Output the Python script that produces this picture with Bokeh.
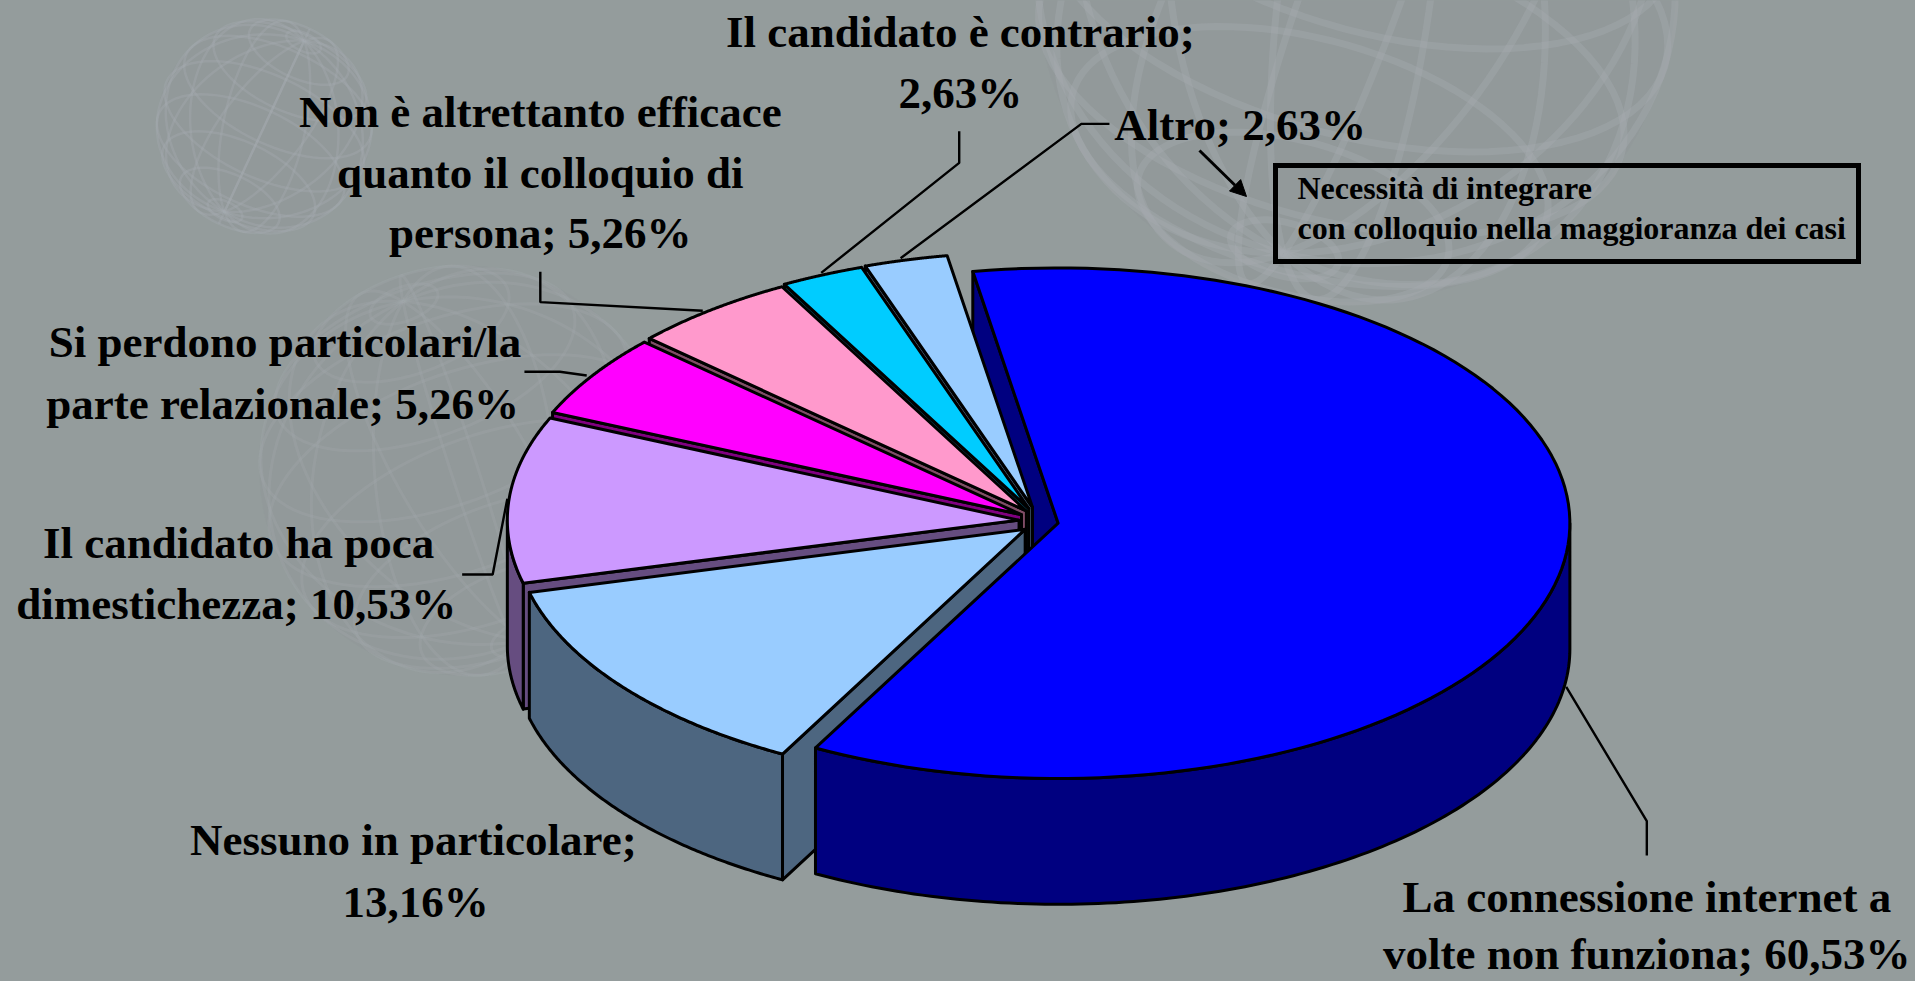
import numpy as np
from bokeh.plotting import figure
from bokeh.models import Arrow, NormalHead
from bokeh.core.properties import value
from bokeh.embed import file_html
from bokeh.resources import INLINE

# ---- data ----
categories = ["La connessione internet a volte non funziona", "Nessuno in particolare",
              "Il candidato ha poca dimestichezza", "Si perdono particolari/la parte relazionale",
              "Non è altrettanto efficace quanto il colloquio di persona",
              "Il candidato è contrario", "Altro"]
shares = [60.53, 13.16, 10.53, 5.26, 5.26, 2.63, 2.63]
top_colors = ["#0000FF", "#99CCFF", "#CC99FF", "#FF00FF", "#FF99CC", "#00CCFF", "#99CCFF"]
wall_colors = ["#000080", "#4D6680", "#664D80", "#800080", "#804D66", "#006680", "#4D6680"]

S = 1915 / 1568
BG = "#949C9C"
FONT = "Liberation Serif"

# ---- layout (in the reference's pixels) ----
centres = [(866, 428), (839, 433), (834, 425.5), (836, 421), (840, 418), (842, 416), (845, 415)]
RX, RY, DEPTH = 419 * S, 209 * S, 103 * S
START = -9.6

p = figure(width=1915, height=981, x_range=(0, 1915), y_range=(981, 0), output_backend="svg",
           toolbar_location=None, min_border=0, background_fill_color=BG, border_fill_color=BG,
           outline_line_color=None)
p.axis.visible = False
p.grid.visible = False


# ---- faint wire globes of the slide's background ----
def globe(cx, cy, r, tilt, spin, nlat=9, nlon=14):
    xs, ys = [], []
    ct, st = np.cos(np.radians(tilt)), np.sin(np.radians(tilt))
    def proj(lat, lon):
        x = np.cos(lat) * np.sin(lon)
        y = np.sin(lat)
        z = np.cos(lat) * np.cos(lon)
        y2 = y * np.cos(0.5) - z * np.sin(0.5)
        return cx + r * (x * ct - y2 * st), cy + r * (x * st + y2 * ct)
    t = np.linspace(0, 2 * np.pi, 90)
    for la in np.linspace(-80, 80, nlat):
        a, b = proj(np.radians(la) * np.ones_like(t), t + np.radians(spin))
        xs.append(a); ys.append(b)
    u = np.linspace(-np.pi / 2, np.pi / 2, 60)
    for lo in np.linspace(0, 360, nlon, endpoint=False):
        a, b = proj(u, np.radians(lo + spin) * np.ones_like(u))
        xs.append(a); ys.append(b)
    return xs, ys


for (gx, gy, gr, tilt, spin, col, alpha, lw) in [
    (1110, -15, 262, 15, 10, "#A6ABAE", 0.40, 7),
    (380, 385, 168, -20, 30, "#A3A8AB", 0.30, 3),
    (216, 103, 88, 25, 0, "#A6ABB1", 0.35, 2.5),
]:
    xs, ys = globe(gx * S, gy * S, gr * S, tilt, spin)
    p.circle(x=[gx * S], y=[gy * S], radius=gr * S, fill_color="#8C9296", fill_alpha=0.22, line_color=None)
    p.multi_line(xs, ys, line_color=col, line_alpha=alpha, line_width=lw)


def rim(c, a0, a1, drop=0.0, n=120):
    t = np.radians(np.linspace(a0, a1, n))
    return c[0] * S + RX * np.sin(t), c[1] * S - RY * np.cos(t) + drop


def shape(x, y, color):
    p.patch(list(x), list(y), fill_color=color, line_color="black", line_width=3, line_join="round")


edges = START + np.concatenate([[0], np.cumsum(shares)]) * 3.6


def cut_face(i):
    c = centres[i]
    ax, ay = c[0] * S, c[1] * S
    x, y = rim(c, edges[i], edges[i], n=1)
    shape([ax, x[0], x[0], ax], [ay, y[0], y[0] + DEPTH, ay + DEPTH], wall_colors[i])


def draw_slice(i):
    c = centres[i]
    a0, a1 = edges[i], edges[i + 1]
    ax, ay = c[0] * S, c[1] * S
    if i != 0:
        cut_face(i)
    # outer wall, wherever the rim faces the viewer
    lo, hi = max(a0, 90), min(a1, 270)
    if hi > lo:
        tx, ty = rim(c, lo, hi)
        shape(np.r_[tx, tx[::-1]], np.r_[ty, ty[::-1] + DEPTH], wall_colors[i])
    # top
    tx, ty = rim(c, a0, a1)
    shape(np.r_[ax, tx], np.r_[ay, ty], top_colors[i])


# the cut face of the big slice lies behind everything else
cut_face(0)
for i in [6, 5, 4, 3, 2, 1, 0]:
    draw_slice(i)

# ---- leader lines ----
leaders = [
    [(785, 107), (785, 133), (672, 223)],
    [(908, 101), (885, 101), (737, 211)],
    [(442, 222), (442, 247), (575, 254)],
    [(429, 304), (458, 304), (480, 307)],
    [(378, 470), (403, 470), (415, 408)],
    [(1282, 562), (1348, 672), (1348, 700)],
]
p.multi_line([[a * S for a, _ in l] for l in leaders], [[b * S for _, b in l] for l in leaders],
             line_color="black", line_width=2.4)

# ---- labels ----
label_lines = ["Il candidato è contrario;", "2,63%",
               "Non è altrettanto efficace", "quanto il colloquio di", "persona; 5,26%",
               "Altro; 2,63%",
               "Si perdono particolari/la", "parte relazionale; 5,26%",
               "Il candidato ha poca", "dimestichezza; 10,53%",
               "Nessuno in particolare;", "13,16%",
               "La connessione internet a", "volte non funziona; 60,53%"]
label_x = [786, 786, 442, 442, 442, 1015, 233, 231, 195, 193, 338, 340, 1348, 1348]
label_y = [26, 76, 91, 141, 190, 102, 280, 330, 444, 494, 687, 738, 734, 781]
p.text([x * S for x in label_x], [y * S for y in label_y], text=label_lines, text_font=value(FONT),
       text_font_style="bold", text_font_size="45px", text_color="black", text_align="center",
       text_baseline="middle")

# ---- note box and its arrow ----
p.quad(left=[1275], right=[1858], top=[165], bottom=[261], fill_color=None, line_color="black", line_width=5,
       line_join="miter")
p.text([1297, 1297], [187, 227], text=["Necessità di integrare", "con colloquio nella maggioranza dei casi"],
       text_font=value(FONT), text_font_style="bold", text_font_size="32px", text_color="black",
       text_align="left", text_baseline="middle")
p.add_layout(Arrow(end=NormalHead(size=16, fill_color="black", line_color="black"),
                   x_start=1199, y_start=150, x_end=1246, y_end=196, line_color="black", line_width=3))

html = file_html(p, INLINE)
html = html.replace("<head>", "<head><style>html,body{margin:0;padding:0;background:%s;overflow:hidden}</style>" % BG, 1)
open("out.html", "w").write(html)
